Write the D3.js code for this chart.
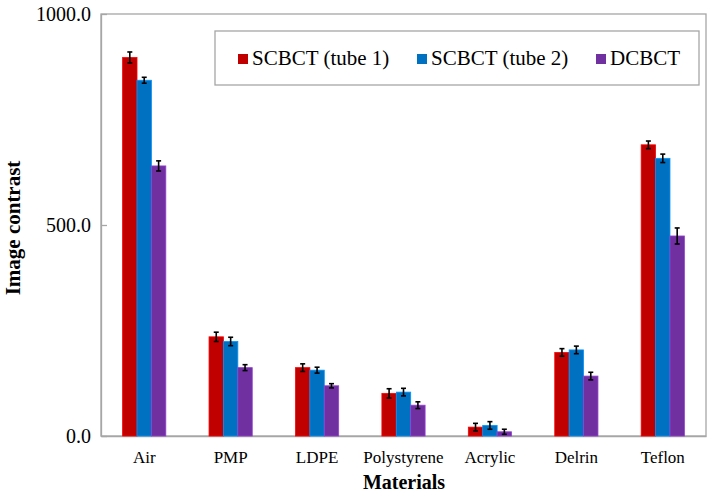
<!DOCTYPE html>
<html><head><meta charset="utf-8">
<script src="https://cdn.jsdelivr.net/npm/d3@7"></script>
<style>body{margin:0;background:#fff}svg{display:block}</style>
</head><body>
<svg id="c" width="709" height="497"></svg>
<script>
const categories = ["Air","PMP","LDPE","Polystyrene","Acrylic","Delrin","Teflon"];
const seriesNames = ["SCBCT (tube 1)","SCBCT (tube 2)","DCBCT"];
const tube1 = [897, 235, 162, 101, 21, 198, 690];
const tube2 = [843, 224, 156, 104, 25, 204, 658];
const dcbct = [640, 162, 119, 73, 10, 142, 474];
const tube1Err = [13, 11, 9, 11, 9, 9, 9];
const tube2Err = [7, 10, 7, 9, 9, 9, 10];
const dcbctErr = [12, 7, 5, 8, 6, 9, 19];
const yTicks = [0, 500, 1000];
const colors = ["#C00000","#0070C0","#7030A0"];

const values = [tube1, tube2, dcbct];
const errs = [tube1Err, tube2Err, dcbctErr];
const svg = d3.select("#c");
const L = 101, R = 706, T = 14, B = 436;
const x = d3.scaleBand().domain(categories).range([L, R]).paddingInner(0.5).paddingOuter(0.25);
const xs = d3.scaleBand().domain(d3.range(3)).range([0, x.bandwidth()]);
const y = d3.scaleLinear().domain([0, 1000]).range([B, T]);
const font = "Liberation Serif, Times New Roman, serif";

// frame
svg.append("rect").attr("x", L).attr("y", T).attr("width", R - L).attr("height", B - T)
  .attr("fill", "none").attr("stroke", "#a6a6a6").attr("stroke-width", 1.3);

// y axis
const ya = svg.append("g").attr("transform", `translate(${L},0)`)
  .call(d3.axisLeft(y).tickValues(yTicks).tickFormat(d3.format(".1f")).tickSizeInner(-6).tickSizeOuter(0).tickPadding(10));
ya.attr("font-family", font).attr("font-size", 20);
ya.select(".domain").attr("stroke", "#a6a6a6").attr("stroke-width", 1.3);
ya.selectAll(".tick line").attr("stroke", "#a6a6a6").attr("stroke-width", 1.3);
ya.selectAll(".tick text").style("font-family", font).style("font-size", "20px").attr("fill", "#000").attr("x", -10);

// x axis
const xa = svg.append("g").attr("transform", `translate(0,${B})`)
  .call(d3.axisBottom(x).tickSize(0).tickPadding(15));
xa.attr("font-family", font).attr("font-size", 17);
xa.select(".domain").attr("stroke", "#a6a6a6").attr("stroke-width", 1.3);
xa.selectAll(".tick text").style("font-family", font).style("font-size", "17px").attr("fill", "#000");

// bars
values.forEach((vals, si) => {
  const g = svg.append("g");
  g.selectAll("rect").data(vals).join("rect")
    .attr("x", (d, i) => x(categories[i]) + xs(si))
    .attr("y", d => y(d))
    .attr("width", xs.bandwidth())
    .attr("height", d => B - y(d))
    .attr("fill", colors[si])
    .attr("stroke", d3.color(colors[si]).brighter(0.8))
    .attr("stroke-width", 0.8);
});
// error bars
values.forEach((vals, si) => {
  const g = svg.append("g").attr("stroke", "#000").attr("stroke-width", 1.6);
  vals.forEach((d, i) => {
    const cx = x(categories[i]) + xs(si) + xs.bandwidth() / 2;
    const e = errs[si][i];
    g.append("line").attr("x1", cx).attr("x2", cx).attr("y1", y(d + e)).attr("y2", y(d - e));
    g.append("line").attr("x1", cx - 2.5).attr("x2", cx + 2.5).attr("y1", y(d + e)).attr("y2", y(d + e));
    g.append("line").attr("x1", cx - 2.5).attr("x2", cx + 2.5).attr("y1", y(d - e)).attr("y2", y(d - e));
  });
});

// legend
const lg = svg.append("g");
lg.append("rect").attr("x", 215).attr("y", 31).attr("width", 484).attr("height", 54)
  .attr("fill", "#fff").attr("stroke", "#a6a6a6").attr("stroke-width", 1.3);
const lx = [238, 417, 596];
seriesNames.forEach((n, i) => {
  lg.append("rect").attr("x", lx[i]).attr("y", 54).attr("width", 10).attr("height", 10).attr("fill", colors[i]);
  lg.append("text").attr("x", lx[i] + 14).attr("y", 65).style("font-family", font).style("font-size", "21px").text(n);
});

// titles
svg.append("text").attr("x", 404).attr("y", 489).attr("text-anchor", "middle")
  .style("font-family", font).style("font-size", "20px").attr("font-weight", "bold").text("Materials");
svg.append("text").attr("transform", "translate(20,228) rotate(-90)").attr("text-anchor", "middle")
  .style("font-family", font).style("font-size", "21px").attr("font-weight", "bold").text("Image contrast");
</script>
</body></html>
